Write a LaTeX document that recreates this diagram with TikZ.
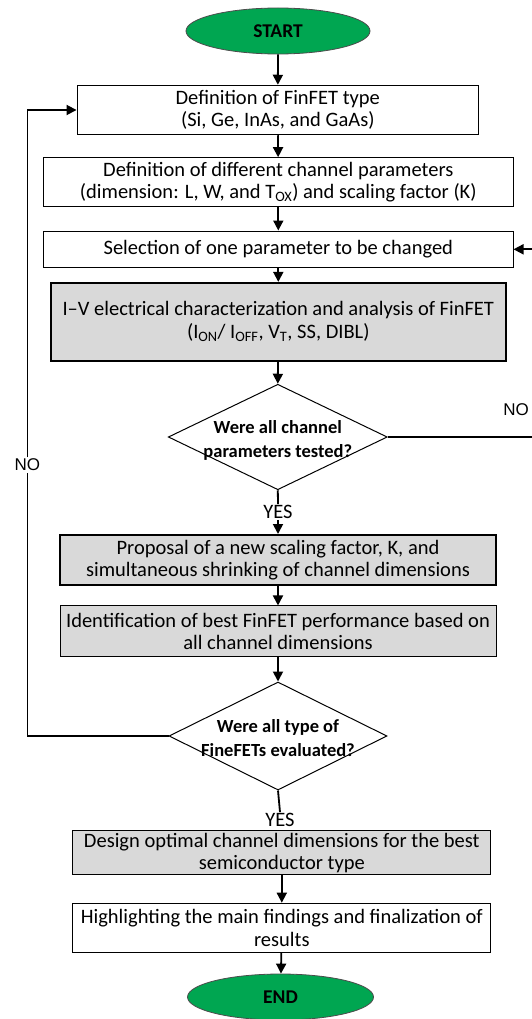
\documentclass[tikz,border=0pt]{standalone}
\usepackage{fontspec}
\setmainfont{Carlito}
\newfontfamily\arialfont{Liberation Sans}
\usetikzlibrary{arrows.meta,shapes.geometric}
\definecolor{grn}{RGB}{0,166,81}
\definecolor{gbox}{RGB}{217,217,217}
\begin{document}
\begin{tikzpicture}[x=1pt,y=-1pt,
  txt/.style={font=\fontsize{20.5}{22.5}\selectfont, align=center},
  box/.style={draw, line width=1pt, txt, inner sep=0pt},
  gbox/.style={box, fill=gbox},
  term/.style={ellipse, draw=black!70, line width=0.8pt, fill=grn, font=\fontsize{19.5}{22}\selectfont\bfseries, inner sep=0pt},
  dia/.style={diamond, draw, line width=1pt, inner sep=0pt},
  dtxt/.style={font=\fontsize{18.5}{24}\selectfont\bfseries, align=center},
  lbl/.style={font=\fontsize{20.5}{22}\selectfont, inner sep=1pt},
  nolbl/.style={font=\arialfont\fontsize{17}{19}\selectfont, inner sep=1.5pt},
  conn/.style={line width=1.8pt},
  arr/.style={conn, -{Triangle[width=10pt,length=10pt]}}
]
\useasboundingbox (0,0) rectangle (531,1019);
\fill[white] (0,0) rectangle (531,1019);

\node[term, minimum width=184pt, minimum height=46pt] (start) at (278,31) {START};
\node[box, minimum width=401.5pt, minimum height=49.5pt] (b1) at (277.8,110) {Definition of FinFET type\\(Si, Ge, InAs, and GaAs)};
\node[box, minimum width=469.4pt, minimum height=49pt] (b2) at (278.3,182.2) {Definition of different channel parameters\\(dimension: L, W, and T\textsubscript{OX}) and scaling factor (K)};
\node[box, minimum width=469.4pt, minimum height=36.6pt] (b3) at (278.3,249.3) {Selection of one parameter to be changed};
\node[gbox, line width=1.8pt, minimum width=455.2pt, minimum height=77.8pt] (b4) at (278.3,321.7) {I--V electrical characterization and analysis of FinFET\\(I\textsubscript{ON}/ I\textsubscript{OFF}, V\textsubscript{T}, SS, DIBL)};
\node[dia, minimum width=219pt, minimum height=105.5pt] (d1) at (277.8,437) {};
\node[dtxt] (d1t) at (277.8,440) {Were all channel\\parameters tested?};
\node[lbl] (yes1) at (278,512) {YES};
\node[gbox, line width=2pt, minimum width=436pt, minimum height=50pt] (b5) at (278,560) {Proposal of a new scaling factor, K, and\\simultaneous shrinking of channel dimensions};
\node[gbox, minimum width=436pt, minimum height=50.7pt] (b6) at (278,631.3) {Identification of best FinFET performance based on\\all channel dimensions};
\node[dia, minimum width=218pt, minimum height=108pt] (d2) at (278,736) {};
\node[dtxt] (d2t) at (278,738) {Were all type of\\FineFETs evaluated?};
\node[lbl] (yes2) at (280,820) {YES};
\node[gbox, minimum width=418.3pt, minimum height=44pt] (b7) at (281.8,852.8) {Design optimal channel dimensions for the best\\semiconductor type};
\node[box, minimum width=418.3pt, minimum height=49pt] (b8) at (281.8,927.7) {Highlighting the main findings and finalization of\\results};
\node[term, minimum width=186pt, minimum height=46pt] (end) at (280.5,997) {END};
\node[nolbl] (no1) at (516,410) {NO};
\node[nolbl] (no2) at (27.4,465) {NO};
\coordinate (rc) at (534,437);

\draw[arr] (start) -- (b1);
\draw[arr] (b1) -- (b2);
\draw[arr] (b2) -- (b3);
\draw[arr] (b3) -- (b4);
\draw[arr] (b4) -- (d1.north);
\draw[conn] (d1.south) -- (yes1.north);
\draw[arr] (yes1.south) -- (b5.north);
\draw[arr] (b5) -- (b6);
\draw[arr] (b6) -- (d2.north);
\draw[conn] (d2.south) -- (yes2.north);
\draw[arr] (b7.south -| b8.north) -- (b8.north);
\draw[arr] (b8) -- (end);
\draw[conn] (d2.west) -| (no2.south);
\draw[arr] (no2.north) |- (b1.west);
\draw[conn] (d1.east) -- (rc);
\draw[arr] (rc) |- (b3.east);
\end{tikzpicture}
\end{document}
